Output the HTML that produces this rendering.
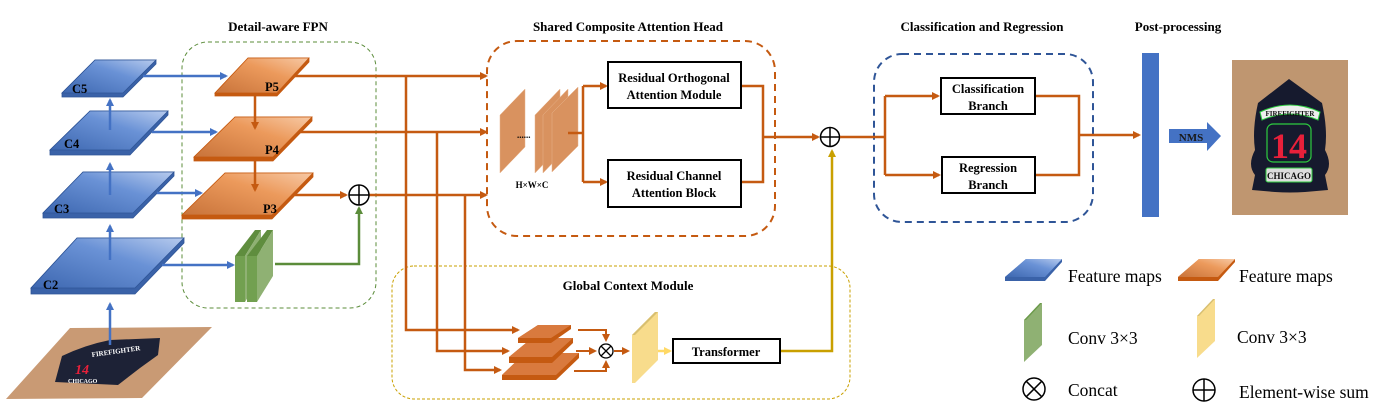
<!DOCTYPE html>
<html><head><meta charset="utf-8"><style>
html,body{margin:0;padding:0;background:#fff}
svg{display:block}
text{font-family:"Liberation Serif",serif}
.t{font-weight:bold;font-size:13px}
.b{font-weight:bold;font-size:12.5px}
.l{font-size:17.5px}
</style></head><body>
<svg width="1389" height="419" viewBox="0 0 1389 419" xmlns="http://www.w3.org/2000/svg">
<defs>
<linearGradient id="gb" x1="0" y1="1" x2="1" y2="0"><stop offset="0" stop-color="#3d67b0"/><stop offset="0.6" stop-color="#6a92d6"/><stop offset="1" stop-color="#b7cbee"/></linearGradient>
<linearGradient id="go" x1="0" y1="1" x2="1" y2="0"><stop offset="0" stop-color="#c8733a"/><stop offset="0.6" stop-color="#ec9a5c"/><stop offset="1" stop-color="#f7c9a5"/></linearGradient>
<marker id="ao" markerWidth="8" markerHeight="8" refX="6" refY="4" orient="auto" markerUnits="userSpaceOnUse"><path d="M0,0 L8,4 L0,8 z" fill="#c55a11"/></marker>
<marker id="ab" markerWidth="8" markerHeight="8" refX="6" refY="4" orient="auto" markerUnits="userSpaceOnUse"><path d="M0,0 L8,4 L0,8 z" fill="#4472c4"/></marker>
<marker id="ag" markerWidth="8" markerHeight="8" refX="6" refY="4" orient="auto" markerUnits="userSpaceOnUse"><path d="M0,0 L8,4 L0,8 z" fill="#5b8c3a"/></marker>
<marker id="ay" markerWidth="8" markerHeight="8" refX="6" refY="4" orient="auto" markerUnits="userSpaceOnUse"><path d="M0,0 L8,4 L0,8 z" fill="#c9a000"/></marker>
<marker id="ayl" markerWidth="8" markerHeight="8" refX="6" refY="4" orient="auto" markerUnits="userSpaceOnUse"><path d="M0,0 L8,4 L0,8 z" fill="#ffd966"/></marker>
</defs>

<text class="t" x="278" y="31" text-anchor="middle">Detail-aware FPN</text>
<text class="t" x="628" y="31" text-anchor="middle">Shared Composite Attention Head</text>
<text class="t" x="982" y="31" text-anchor="middle">Classification and Regression</text>
<text class="t" x="1178" y="31" text-anchor="middle">Post-processing</text>

<rect x="182" y="42" width="194" height="266" rx="26" fill="none" stroke="#5b8c3a" stroke-width="1" stroke-dasharray="4,3"/>
<rect x="487" y="41" width="288" height="195" rx="30" fill="none" stroke="#c55a11" stroke-width="2" stroke-dasharray="7,5"/>
<rect x="392" y="266" width="458" height="133" rx="22" fill="none" stroke="#c9a000" stroke-width="1" stroke-dasharray="3,2"/>
<rect x="874" y="54" width="219" height="168" rx="28" fill="none" stroke="#2f5597" stroke-width="2" stroke-dasharray="7,5"/>
<text class="t" x="628" y="290" text-anchor="middle">Global Context Module</text>

<polygon points="6,399 70,328 212,327 142,398" fill="#c99a74"/>
<path d="M55,382 L62,356 Q85,345 110,340 L160,338 L158,355 L140,368 L118,385 Z" fill="#1d2236"/>
<text x="92" y="357" font-size="7" font-weight="bold" fill="#fff" transform="rotate(-8 92 357)">FIREFIGHTER</text>
<text x="75" y="374" font-size="14" font-weight="bold" fill="#e8203a" font-style="italic">14</text>
<text x="68" y="383" font-size="6" font-weight="bold" fill="#fff">CHICAGO</text>

<g stroke="#2f5597" stroke-width="0.8">
<polygon points="95,60 156,60 156,64 123,97 62,97 62,93" fill="#3a62a8"/>
<polygon points="95,60 156,60 123,93 62,93" fill="url(#gb)"/>
<polygon points="90,111 168,111 168,115 130,155 50,155 50,150" fill="#3a62a8"/>
<polygon points="90,111 168,111 130,150 50,150" fill="url(#gb)"/>
<polygon points="83,172 174,172 174,176 133,218 43,218 43,213" fill="#3a62a8"/>
<polygon points="83,172 174,172 133,213 43,213" fill="url(#gb)"/>
<polygon points="77,238 184,238 184,243 135,294 31,294 31,288" fill="#3a62a8"/>
<polygon points="77,238 184,238 135,288 31,288" fill="url(#gb)"/>
</g>
<g class="b" font-size="13"><text x="72" y="93">C5</text><text x="64" y="148">C4</text><text x="54" y="213">C3</text><text x="43" y="289">C2</text></g>

<g stroke="#4472c4" stroke-width="2.5" fill="none" marker-end="url(#ab)">
<line x1="110" y1="345" x2="110" y2="304"/>
<line x1="110" y1="260" x2="110" y2="226"/>
<line x1="110" y1="195" x2="110" y2="164"/>
<line x1="110" y1="130" x2="110" y2="100"/>
<line x1="143" y1="76" x2="226" y2="76"/>
<line x1="152" y1="132" x2="216" y2="132"/>
<line x1="157" y1="193" x2="201" y2="193"/>
<line x1="162" y1="265" x2="233" y2="265"/>
</g>

<g stroke="#c55a11" stroke-width="0.8">
<polygon points="248,58 309,58 309,62 277,96 215,96 215,93" fill="#c55a11"/>
<polygon points="248,58 309,58 277,93 215,93" fill="url(#go)"/>
<polygon points="235,117 312,117 312,121 273,161 194,161 194,157" fill="#c55a11"/>
<polygon points="235,117 312,117 273,157 194,157" fill="url(#go)"/>
<polygon points="225,173 313,173 313,177 272,219 182,219 182,215" fill="#c55a11"/>
<polygon points="225,173 313,173 272,215 182,215" fill="url(#go)"/>
</g>
<g class="b" font-size="13"><text x="265" y="91">P5</text><text x="265" y="154">P4</text><text x="263" y="213">P3</text></g>

<!-- green conv: two slabs -->
<polygon points="235,256 245,256 245,302 235,302" fill="#72a050"/>
<polygon points="235,256 255,230 261,230 245,256" fill="#5f8d3e"/>
<polygon points="245,256 261,230 261,276 245,302" fill="#8fb173"/>
<polygon points="247,256 257,256 257,302 247,302" fill="#72a050"/>
<polygon points="247,256 267,230 273,230 257,256" fill="#5f8d3e"/>
<polygon points="257,256 273,230 273,276 257,302" fill="#8fb173"/>
<polyline points="275,264 359,264 359,208" fill="none" stroke="#5b8c3a" stroke-width="2.5" marker-end="url(#ag)"/>

<g stroke="#c55a11" stroke-width="2.5" fill="none">
<line x1="255" y1="96" x2="255" y2="128" marker-end="url(#ao)"/>
<line x1="255" y1="161" x2="255" y2="190" marker-end="url(#ao)"/>
<line x1="295" y1="195" x2="346" y2="195" marker-end="url(#ao)"/>
<line x1="295" y1="76" x2="486" y2="76" marker-end="url(#ao)"/>
<line x1="298" y1="132" x2="486" y2="132" marker-end="url(#ao)"/>
<line x1="369" y1="195" x2="486" y2="195" marker-end="url(#ao)"/>
<polyline points="406,76 406,330 518,330" marker-end="url(#ao)"/>
<polyline points="437,132 437,351 508,351" marker-end="url(#ao)"/>
<polyline points="465,195 465,370 500,370" marker-end="url(#ao)"/>
</g>
<circle cx="359" cy="195" r="10" fill="#fff" stroke="#000" stroke-width="1.5"/>
<path d="M349,195 H369 M359,185 V205" stroke="#000" stroke-width="1.5"/>

<g fill="#d9925f" stroke="#e8b48c" stroke-width="0.5">
<polygon points="500,115 525,89 525,147 500,173"/>
<polygon points="535,115 560,89 560,147 535,173"/>
<polygon points="543,115 568,89 568,147 543,173"/>
<polygon points="552,113 578,87 578,146 552,172"/>
</g>
<text x="517" y="138" font-size="9" font-weight="bold">......</text>
<text x="532" y="188" font-size="9" font-weight="bold" text-anchor="middle">H×W×C</text>

<g stroke="#c55a11" stroke-width="2.5" fill="none">
<line x1="568" y1="133" x2="583" y2="133"/>
<polyline points="583,86 583,182"/>
<line x1="583" y1="86" x2="606" y2="86" marker-end="url(#ao)"/>
<line x1="583" y1="182" x2="606" y2="182" marker-end="url(#ao)"/>
<polyline points="741,86 763,86 763,182 741,182"/>
<line x1="763" y1="137" x2="818" y2="137" marker-end="url(#ao)"/>
</g>
<rect x="608" y="62" width="133" height="46" fill="#fff" stroke="#000" stroke-width="2"/>
<text class="b" x="674" y="82" text-anchor="middle">Residual Orthogonal</text>
<text class="b" x="674" y="99" text-anchor="middle">Attention Module</text>
<rect x="608" y="160" width="133" height="47" fill="#fff" stroke="#000" stroke-width="2"/>
<text class="b" x="674" y="180" text-anchor="middle">Residual Channel</text>
<text class="b" x="674" y="197" text-anchor="middle">Attention Block</text>

<circle cx="830" cy="137" r="9.5" fill="#fff" stroke="#000" stroke-width="1.5"/>
<path d="M820.5,137 H839.5 M830,127.5 V146.5" stroke="#000" stroke-width="1.5"/>
<polyline points="780,351 832,351 832,151" fill="none" stroke="#c9a000" stroke-width="2.5" marker-end="url(#ay)"/>

<g>
<polygon points="502,375 525,353 579,353 579,358 556,380 502,380" fill="#c55a11"/>
<polygon points="502,375 525,353 579,353 556,375" fill="#d97a3e"/>
<polygon points="509,357 532,338 573,338 573,343 552,363 509,363" fill="#c55a11"/>
<polygon points="509,357 532,338 573,338 552,357" fill="#d97a3e"/>
<polygon points="518,338 538,325 571,325 571,329 551,343 518,343" fill="#c55a11"/>
<polygon points="518,338 538,325 571,325 551,338" fill="#d97a3e"/>
</g>
<g stroke="#c55a11" stroke-width="2" fill="none">
<polyline points="578,330 606,330 606,340" marker-end="url(#ao)"/>
<line x1="576" y1="351" x2="595" y2="351" marker-end="url(#ao)"/>
<polyline points="574,371 606,371 606,362" marker-end="url(#ao)"/>
<line x1="614" y1="351" x2="628" y2="351" marker-end="url(#ao)"/>
</g>
<circle cx="606" cy="351" r="7" fill="#fff" stroke="#000" stroke-width="1.3"/>
<path d="M601,346 L611,356 M611,346 L601,356" stroke="#000" stroke-width="1.3"/>
<polygon points="632,335 655,312 658,312 658,360 635,383 632,383" fill="#f8dc8c"/>
<polygon points="632,335 655,312 658,312 635,335" fill="#d8bf70"/>
<line x1="658" y1="351" x2="670" y2="351" stroke="#ffd966" stroke-width="2.5" marker-end="url(#ayl)"/>
<rect x="673" y="339" width="107" height="24" fill="#fff" stroke="#000" stroke-width="2"/>
<text class="b" x="726" y="356" text-anchor="middle" font-size="13.5">Transformer</text>

<g stroke="#c55a11" stroke-width="2.5" fill="none">
<line x1="840" y1="137" x2="885" y2="137"/>
<polyline points="885,96 885,175"/>
<line x1="885" y1="96" x2="938" y2="96" marker-end="url(#ao)"/>
<line x1="885" y1="175" x2="939" y2="175" marker-end="url(#ao)"/>
<polyline points="1035,96 1079,96 1079,175 1035,175"/>
<line x1="1079" y1="135" x2="1139" y2="135" marker-end="url(#ao)"/>
</g>
<rect x="941" y="78" width="94" height="36" fill="#fff" stroke="#000" stroke-width="2"/>
<text class="b" x="988" y="93" text-anchor="middle">Classification</text>
<text class="b" x="988" y="110" text-anchor="middle">Branch</text>
<rect x="942" y="157" width="93" height="36" fill="#fff" stroke="#000" stroke-width="2"/>
<text class="b" x="988" y="172" text-anchor="middle">Regression</text>
<text class="b" x="988" y="189" text-anchor="middle">Branch</text>

<rect x="1142" y="53" width="17" height="164" fill="#4472c4"/>
<polygon points="1169,129 1207,129 1207,122 1221,136 1207,151 1207,143 1169,143" fill="#4472c4"/>
<text x="1191" y="141" font-size="11" font-weight="bold" text-anchor="middle" fill="#1a1a1a">NMS</text>

<rect x="1232" y="60" width="116" height="155" fill="#bf9670"/>
<path d="M1289,79 L1322,103 Q1328,130 1325,150 Q1333,165 1325,175 L1328,190 L1305,192 Q1290,193 1275,192 L1252,190 L1255,175 Q1247,165 1255,150 Q1252,130 1258,103 Z" fill="#161a2e"/>
<path d="M1260,112 Q1290,98 1320,112 L1318,120 Q1290,108 1262,120 Z" fill="#eee" stroke="#2ecc40" stroke-width="1"/>
<text x="1290" y="116" font-size="7" font-weight="bold" text-anchor="middle" fill="#111">FIREFIGHTER</text>
<rect x="1267" y="124" width="44" height="38" rx="6" fill="none" stroke="#2ecc40" stroke-width="1.2"/>
<text x="1289" y="158" font-size="36" font-weight="bold" text-anchor="middle" fill="#e8203a" font-family="Liberation Sans, sans-serif">14</text>
<rect x="1266" y="168" width="46" height="14" rx="2" fill="#ddd" stroke="#2ecc40" stroke-width="1"/>
<text x="1289" y="179" font-size="9" font-weight="bold" text-anchor="middle" fill="#111">CHICAGO</text>

<polygon points="1005,277 1026,259 1062,259 1062,262 1045,281 1005,281" fill="#3a62a8"/>
<polygon points="1005,277 1026,259 1062,259 1045,277" fill="url(#gb)"/>
<text class="l" x="1068" y="282">Feature maps</text>
<polygon points="1178,277 1199,259 1235,259 1235,262 1218,281 1178,281" fill="#c55a11"/>
<polygon points="1178,277 1199,259 1235,259 1218,277" fill="url(#go)"/>
<text class="l" x="1239" y="282">Feature maps</text>

<polygon points="1024,320 1042,303 1042,345 1024,362" fill="#8fb173"/>
<polygon points="1024,320 1040,303 1042,303 1026,320" fill="#6b9a4a"/>
<text class="l" x="1068" y="344">Conv 3×3</text>
<polygon points="1197,316 1215,299 1215,341 1197,358" fill="#f8dc8c"/>
<polygon points="1197,316 1213,299 1215,299 1199,316" fill="#d8bf70"/>
<text class="l" x="1237" y="343">Conv 3×3</text>

<circle cx="1034" cy="389" r="11" fill="none" stroke="#000" stroke-width="1.5"/>
<path d="M1026.2,381.2 L1041.8,396.8 M1041.8,381.2 L1026.2,396.8" stroke="#000" stroke-width="1.5"/>
<text class="l" x="1068" y="396">Concat</text>
<circle cx="1204" cy="390" r="11" fill="none" stroke="#000" stroke-width="1.5"/>
<path d="M1193,390 H1215 M1204,379 V401" stroke="#000" stroke-width="1.5"/>
<text class="l" x="1239" y="398">Element-wise sum</text>
</svg>
</body></html>
